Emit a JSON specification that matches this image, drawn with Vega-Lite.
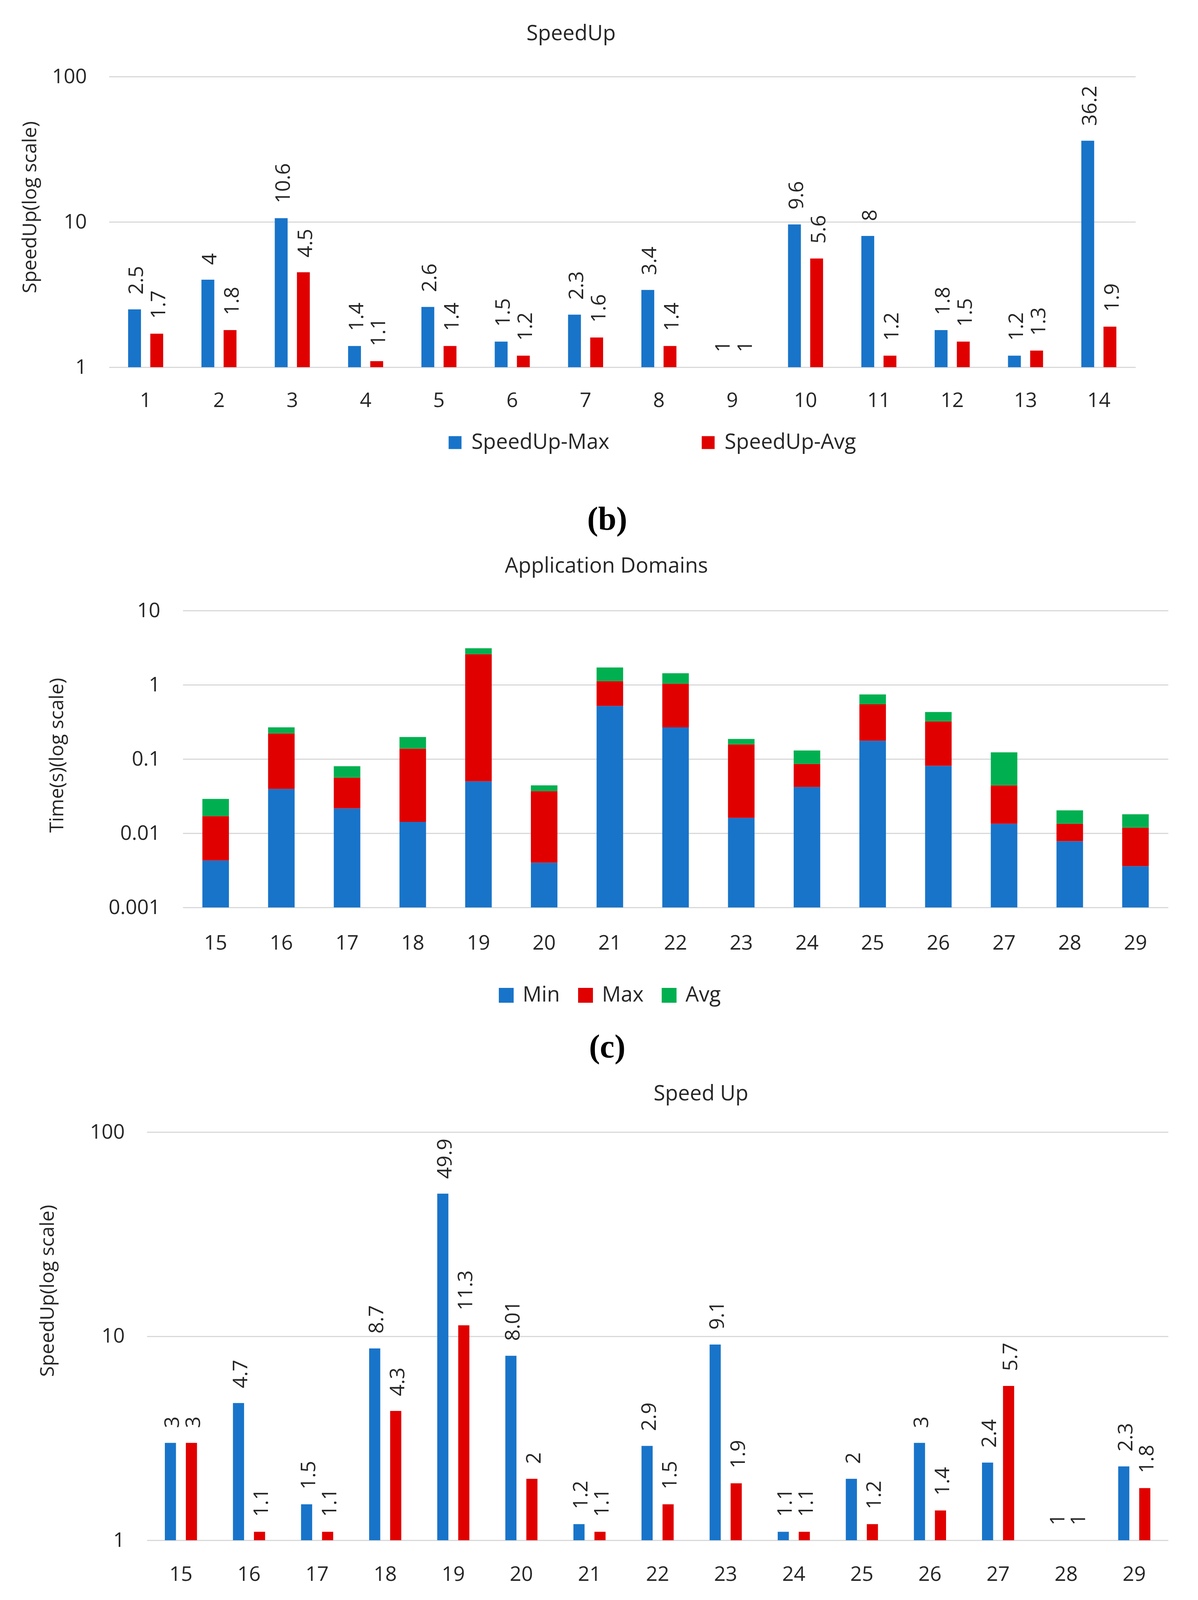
{
  "$schema": "https://vega.github.io/schema/vega-lite/v6.json",
  "background": "white",
  "padding": {"left": 0, "top": 60, "right": 0, "bottom": 0},
  "spacing": 49,
  "resolve": {"scale": {"color": "independent", "xOffset": "independent"}, "legend": {"color": "independent"}},
  "datasets": {
    "b": [
      {"cat": 1, "series": "SpeedUp-Max", "value": 2.5}, {"cat": 1, "series": "SpeedUp-Avg", "value": 1.7},
      {"cat": 2, "series": "SpeedUp-Max", "value": 4}, {"cat": 2, "series": "SpeedUp-Avg", "value": 1.8},
      {"cat": 3, "series": "SpeedUp-Max", "value": 10.6}, {"cat": 3, "series": "SpeedUp-Avg", "value": 4.5},
      {"cat": 4, "series": "SpeedUp-Max", "value": 1.4}, {"cat": 4, "series": "SpeedUp-Avg", "value": 1.1},
      {"cat": 5, "series": "SpeedUp-Max", "value": 2.6}, {"cat": 5, "series": "SpeedUp-Avg", "value": 1.4},
      {"cat": 6, "series": "SpeedUp-Max", "value": 1.5}, {"cat": 6, "series": "SpeedUp-Avg", "value": 1.2},
      {"cat": 7, "series": "SpeedUp-Max", "value": 2.3}, {"cat": 7, "series": "SpeedUp-Avg", "value": 1.6},
      {"cat": 8, "series": "SpeedUp-Max", "value": 3.4}, {"cat": 8, "series": "SpeedUp-Avg", "value": 1.4},
      {"cat": 9, "series": "SpeedUp-Max", "value": 1}, {"cat": 9, "series": "SpeedUp-Avg", "value": 1},
      {"cat": 10, "series": "SpeedUp-Max", "value": 9.6}, {"cat": 10, "series": "SpeedUp-Avg", "value": 5.6},
      {"cat": 11, "series": "SpeedUp-Max", "value": 8}, {"cat": 11, "series": "SpeedUp-Avg", "value": 1.2},
      {"cat": 12, "series": "SpeedUp-Max", "value": 1.8}, {"cat": 12, "series": "SpeedUp-Avg", "value": 1.5},
      {"cat": 13, "series": "SpeedUp-Max", "value": 1.2}, {"cat": 13, "series": "SpeedUp-Avg", "value": 1.3},
      {"cat": 14, "series": "SpeedUp-Max", "value": 36.2}, {"cat": 14, "series": "SpeedUp-Avg", "value": 1.9}
    ],
    "c": [
      {"cat": 15, "series": "Min", "value": 0.0043}, {"cat": 15, "series": "Max", "value": 0.0127}, {"cat": 15, "series": "Avg", "value": 0.012},
      {"cat": 16, "series": "Min", "value": 0.0395}, {"cat": 16, "series": "Max", "value": 0.1815}, {"cat": 16, "series": "Avg", "value": 0.046},
      {"cat": 17, "series": "Min", "value": 0.0216}, {"cat": 17, "series": "Max", "value": 0.0344}, {"cat": 17, "series": "Avg", "value": 0.024},
      {"cat": 18, "series": "Min", "value": 0.0142}, {"cat": 18, "series": "Max", "value": 0.1238}, {"cat": 18, "series": "Avg", "value": 0.06},
      {"cat": 19, "series": "Min", "value": 0.05}, {"cat": 19, "series": "Max", "value": 2.53}, {"cat": 19, "series": "Avg", "value": 0.53},
      {"cat": 20, "series": "Min", "value": 0.004}, {"cat": 20, "series": "Max", "value": 0.0329}, {"cat": 20, "series": "Avg", "value": 0.0072},
      {"cat": 21, "series": "Min", "value": 0.518}, {"cat": 21, "series": "Max", "value": 0.599}, {"cat": 21, "series": "Avg", "value": 0.593},
      {"cat": 22, "series": "Min", "value": 0.267}, {"cat": 22, "series": "Max", "value": 0.768}, {"cat": 22, "series": "Avg", "value": 0.395},
      {"cat": 23, "series": "Min", "value": 0.0161}, {"cat": 23, "series": "Max", "value": 0.141}, {"cat": 23, "series": "Avg", "value": 0.029},
      {"cat": 24, "series": "Min", "value": 0.0419}, {"cat": 24, "series": "Max", "value": 0.0439}, {"cat": 24, "series": "Avg", "value": 0.0442},
      {"cat": 25, "series": "Min", "value": 0.176}, {"cat": 25, "series": "Max", "value": 0.37}, {"cat": 25, "series": "Avg", "value": 0.195},
      {"cat": 26, "series": "Min", "value": 0.0808}, {"cat": 26, "series": "Max", "value": 0.24}, {"cat": 26, "series": "Avg", "value": 0.109},
      {"cat": 27, "series": "Min", "value": 0.0134}, {"cat": 27, "series": "Max", "value": 0.0307}, {"cat": 27, "series": "Avg", "value": 0.0789},
      {"cat": 28, "series": "Min", "value": 0.0078}, {"cat": 28, "series": "Max", "value": 0.0056}, {"cat": 28, "series": "Avg", "value": 0.0069},
      {"cat": 29, "series": "Min", "value": 0.0036}, {"cat": 29, "series": "Max", "value": 0.0083}, {"cat": 29, "series": "Avg", "value": 0.0061}
    ],
    "d": [
      {"cat": 15, "series": "SpeedUp-Max", "value": 3}, {"cat": 15, "series": "SpeedUp-Avg", "value": 3},
      {"cat": 16, "series": "SpeedUp-Max", "value": 4.7}, {"cat": 16, "series": "SpeedUp-Avg", "value": 1.1},
      {"cat": 17, "series": "SpeedUp-Max", "value": 1.5}, {"cat": 17, "series": "SpeedUp-Avg", "value": 1.1},
      {"cat": 18, "series": "SpeedUp-Max", "value": 8.7}, {"cat": 18, "series": "SpeedUp-Avg", "value": 4.3},
      {"cat": 19, "series": "SpeedUp-Max", "value": 49.9}, {"cat": 19, "series": "SpeedUp-Avg", "value": 11.3},
      {"cat": 20, "series": "SpeedUp-Max", "value": 8.01}, {"cat": 20, "series": "SpeedUp-Avg", "value": 2},
      {"cat": 21, "series": "SpeedUp-Max", "value": 1.2}, {"cat": 21, "series": "SpeedUp-Avg", "value": 1.1},
      {"cat": 22, "series": "SpeedUp-Max", "value": 2.9}, {"cat": 22, "series": "SpeedUp-Avg", "value": 1.5},
      {"cat": 23, "series": "SpeedUp-Max", "value": 9.1}, {"cat": 23, "series": "SpeedUp-Avg", "value": 1.9},
      {"cat": 24, "series": "SpeedUp-Max", "value": 1.1}, {"cat": 24, "series": "SpeedUp-Avg", "value": 1.1},
      {"cat": 25, "series": "SpeedUp-Max", "value": 2}, {"cat": 25, "series": "SpeedUp-Avg", "value": 1.2},
      {"cat": 26, "series": "SpeedUp-Max", "value": 3}, {"cat": 26, "series": "SpeedUp-Avg", "value": 1.4},
      {"cat": 27, "series": "SpeedUp-Max", "value": 2.4}, {"cat": 27, "series": "SpeedUp-Avg", "value": 5.7},
      {"cat": 28, "series": "SpeedUp-Max", "value": 1}, {"cat": 28, "series": "SpeedUp-Avg", "value": 1},
      {"cat": 29, "series": "SpeedUp-Max", "value": 2.3}, {"cat": 29, "series": "SpeedUp-Avg", "value": 1.8}
    ],
    "e": [
      {"cat": 30, "series": "Min", "value": 0.0089}, {"cat": 30, "series": "Max", "value": 0.1116}, {"cat": 30, "series": "Avg", "value": 0.0271},
      {"cat": 31, "series": "Min", "value": 0.000634}, {"cat": 31, "series": "Max", "value": 0.00333}, {"cat": 31, "series": "Avg", "value": 0.00229},
      {"cat": 32, "series": "Min", "value": 0.0236}, {"cat": 32, "series": "Max", "value": 0.0567}, {"cat": 32, "series": "Avg", "value": 0.0337},
      {"cat": 33, "series": "Min", "value": 0.00217}, {"cat": 33, "series": "Max", "value": 0.0106}, {"cat": 33, "series": "Avg", "value": 0.00554},
      {"cat": 34, "series": "Min", "value": 0.0723}, {"cat": 34, "series": "Max", "value": 0.1087}, {"cat": 34, "series": "Avg", "value": 0.076},
      {"cat": 35, "series": "Min", "value": 0.0044}, {"cat": 35, "series": "Max", "value": 0.00836}, {"cat": 35, "series": "Avg", "value": 0.00634},
      {"cat": 36, "series": "Min", "value": 0.0069}, {"cat": 36, "series": "Max", "value": 0.0144}, {"cat": 36, "series": "Avg", "value": 0.0139},
      {"cat": 37, "series": "Min", "value": 0.00995}, {"cat": 37, "series": "Max", "value": 0.0358}, {"cat": 37, "series": "Avg", "value": 0.0074},
      {"cat": 38, "series": "Min", "value": 0.0618}, {"cat": 38, "series": "Max", "value": 0.413}, {"cat": 38, "series": "Avg", "value": 0.238},
      {"cat": 39, "series": "Min", "value": 0.0121}, {"cat": 39, "series": "Max", "value": 0.0128}, {"cat": 39, "series": "Avg", "value": 0.0122},
      {"cat": 40, "series": "Min", "value": 0.0274}, {"cat": 40, "series": "Max", "value": 0.1063}, {"cat": 40, "series": "Avg", "value": 0.0553},
      {"cat": 41, "series": "Min", "value": 0.00727}, {"cat": 41, "series": "Max", "value": 0.014}, {"cat": 41, "series": "Avg", "value": 0.0123},
      {"cat": 42, "series": "Min", "value": 0.0394}, {"cat": 42, "series": "Max", "value": 0.2176}, {"cat": 42, "series": "Avg", "value": 0.111},
      {"cat": 43, "series": "Min", "value": 0.00309}, {"cat": 43, "series": "Max", "value": 0.0118}, {"cat": 43, "series": "Avg", "value": 0.0062}
    ]
  },
  "vconcat": [
    {
      "spacing": 0,
      "title": {"text": "(b)", "orient": "bottom", "anchor": "middle", "frame": "bounds", "dx": 101, "offset": 129.5, "baseline": "top", "font": "Liberation Serif", "fontSize": 84, "fontWeight": "bold", "color": "#000000"},
      "hconcat": [
        {"width": 52, "height": 1, "data": {"values": []}, "mark": "point"},
        {
          "width": 2628, "height": 744,
          "data": {"name": "b"},
          "title": {"text": "SpeedUp", "frame": "group", "anchor": "middle", "dx": -131, "offset": 2, "baseline": "bottom"},
          "encoding": {
            "x": {"field": "cat", "type": "ordinal", "scale": {"paddingInner": 0.395, "paddingOuter": 0.1975}, "axis": {"title": null, "labelPadding": 60}},
            "xOffset": {"field": "series", "type": "nominal", "sort": ["SpeedUp-Max", "SpeedUp-Avg"], "scale": {"paddingInner": 0.42, "paddingOuter": 0.21}},
            "y": {"field": "value", "type": "quantitative", "scale": {"type": "log", "domain": [1, 100], "nice": false, "clamp": true}, "axis": {"values": [1, 10, 100], "format": "~g", "title": "SpeedUp(log scale)", "titleX": -177, "titleY": 334, "labelPadding": 57}}
          },
          "layer": [
            {"mark": {"type": "bar"}, "encoding": {"y2": {"datum": 1}, "color": {"field": "series", "type": "nominal", "scale": {"domain": ["SpeedUp-Max", "SpeedUp-Avg"], "range": ["#1874C9", "#E00000"]}, "legend": {"orient": "none", "legendX": 1138, "legendY": 910, "direction": "horizontal", "columns": 2, "columnPadding": 226, "title": null}}}},
            {"mark": {"type": "text", "angle": 270, "align": "left", "baseline": "middle", "dx": 38, "dy": 6, "fontSize": 52, "color": "#262626"}, "encoding": {"text": {"field": "value", "type": "quantitative", "format": "~g"}}}
          ]
        }
      ]
    },
    {
      "spacing": 0,
      "title": {"text": "(c)", "orient": "bottom", "anchor": "middle", "frame": "bounds", "dx": 59, "offset": 65.5, "baseline": "top", "font": "Liberation Serif", "fontSize": 84, "fontWeight": "bold", "color": "#000000"},
      "hconcat": [
        {"width": 121, "height": 1, "data": {"values": []}, "mark": "point"},
        {
          "width": 2523, "height": 760,
          "data": {"name": "c"},
          "title": {"text": "Application Domains", "frame": "group", "anchor": "middle", "dx": -177, "offset": 6.5, "baseline": "bottom"},
          "transform": [{"stack": "value", "groupby": ["cat"], "sort": [{"field": "series", "order": "descending"}], "as": ["v0", "v1"]}],
          "mark": {"type": "bar"},
          "encoding": {
            "x": {"field": "cat", "type": "ordinal", "scale": {"paddingInner": 0.596, "paddingOuter": 0.298}, "axis": {"title": null, "labelPadding": 66}},
            "y": {"field": "v1", "type": "quantitative", "scale": {"type": "log", "domain": [0.001, 10], "nice": false, "clamp": true}, "axis": {"values": [0.001, 0.01, 0.1, 1, 10], "format": "~g", "title": "Time(s)(log scale)", "titleX": -297, "titleY": 370, "labelPadding": 58}},
            "y2": {"field": "v0"},
            "color": {"field": "series", "type": "nominal", "scale": {"domain": ["Min", "Max", "Avg"], "range": ["#1874C9", "#E00000", "#00B050"]}, "legend": {"orient": "none", "legendX": 1269, "legendY": 958, "direction": "horizontal", "columns": 3, "columnPadding": 38, "symbolSize": 1444, "title": null}}
          }
        }
      ]
    },
    {
      "spacing": 0,
      "title": {"text": "(d)", "orient": "bottom", "anchor": "middle", "frame": "bounds", "dx": 59, "offset": 93.5, "baseline": "top", "font": "Liberation Serif", "fontSize": 84, "fontWeight": "bold", "color": "#000000"},
      "hconcat": [
        {"width": 97, "height": 1, "data": {"values": []}, "mark": "point"},
        {
          "width": 2615, "height": 1045,
          "data": {"name": "d"},
          "title": {"text": "Speed Up", "frame": "group", "anchor": "middle", "dx": 111, "offset": -9.5, "baseline": "bottom"},
          "encoding": {
            "x": {"field": "cat", "type": "ordinal", "scale": {"paddingInner": 0.383, "paddingOuter": 0.1915}, "axis": {"title": null, "labelPadding": 62}},
            "xOffset": {"field": "series", "type": "nominal", "sort": ["SpeedUp-Max", "SpeedUp-Avg"], "scale": {"paddingInner": 0.47, "paddingOuter": 0.235}},
            "y": {"field": "value", "type": "quantitative", "scale": {"type": "log", "domain": [1, 100], "nice": false, "clamp": true}, "axis": {"values": [1, 10, 100], "format": "~g", "title": "SpeedUp(log scale)", "titleX": -229, "titleY": 406, "labelPadding": 57}}
          },
          "layer": [
            {"mark": {"type": "bar"}, "encoding": {"y2": {"datum": 1}, "color": {"field": "series", "type": "nominal", "scale": {"domain": ["SpeedUp-Max", "SpeedUp-Avg"], "range": ["#1874C9", "#E00000"]}, "legend": {"orient": "none", "legendX": 1248, "legendY": 1199, "direction": "horizontal", "columns": 2, "columnPadding": 225, "title": null}}}},
            {"mark": {"type": "text", "angle": 270, "align": "left", "baseline": "middle", "dx": 38, "dy": 6, "fontSize": 52, "color": "#262626"}, "encoding": {"text": {"field": "value", "type": "quantitative", "format": "~g"}}}
          ]
        }
      ]
    },
    {
      "spacing": 0,
      "title": {"text": "(e)", "orient": "bottom", "anchor": "middle", "frame": "bounds", "dx": 62, "offset": 54.5, "baseline": "top", "font": "Liberation Serif", "fontSize": 84, "fontWeight": "bold", "color": "#000000"},
      "hconcat": [
        {"width": 156, "height": 1, "data": {"values": []}, "mark": "point"},
        {
          "width": 2481, "height": 860,
          "data": {"name": "e"},
          "title": {"text": "Application Domain", "frame": "group", "anchor": "middle", "dx": -190, "offset": -5.5, "baseline": "bottom"},
          "transform": [{"stack": "value", "groupby": ["cat"], "sort": [{"field": "series", "order": "descending"}], "as": ["v0", "v1"]}],
          "mark": {"type": "bar"},
          "encoding": {
            "x": {"field": "cat", "type": "ordinal", "scale": {"paddingInner": 0.605, "paddingOuter": 0.3025}, "axis": {"title": null, "labelPadding": 62}},
            "y": {"field": "v1", "type": "quantitative", "scale": {"type": "log", "domain": [0.0001, 1], "nice": false, "clamp": true}, "axis": {"values": [0.0001, 0.001, 0.01, 0.1, 1], "format": "~g", "title": "Time(s)(log scale)", "titleX": -298, "titleY": 430, "labelPadding": 61}},
            "y2": {"field": "v0"},
            "color": {"field": "series", "type": "nominal", "scale": {"domain": ["Min", "Max", "Avg"], "range": ["#1874C9", "#E00000", "#00B050"]}, "legend": {"orient": "none", "legendX": 1282, "legendY": 1052, "direction": "horizontal", "columns": 3, "columnPadding": 30, "symbolSize": 1444, "title": null}}
          }
        }
      ]
    }
  ],
  "config": {
    "font": "Open Sans",
    "view": {"stroke": null},
    "axis": {
      "domain": false, "ticks": false, "tickSize": 0,
      "labelFontSize": 52, "labelColor": "#262626", "labelLimit": 1000,
      "titleFontSize": 50, "titleColor": "#262626", "titleFontWeight": "normal", "titleLimit": 3000,
      "titleAngle": 270, "titleBaseline": "bottom", "titleAlign": "center",
      "gridColor": "#D9D9D9", "gridWidth": 3
    },
    "axisX": {"grid": false, "labelAngle": 0, "titleAngle": 0},
    "axisY": {"grid": true},
    "legend": {
      "symbolType": "square", "symbolSize": 1089, "symbolStrokeWidth": 0, "symbolOpacity": 1,
      "labelFontSize": 54, "labelColor": "#262626", "labelOffset": 15, "labelLimit": 1000, "padding": 0
    },
    "title": {"font": "Open Sans", "fontSize": 54, "fontWeight": "normal", "color": "#262626"}
  }
}
